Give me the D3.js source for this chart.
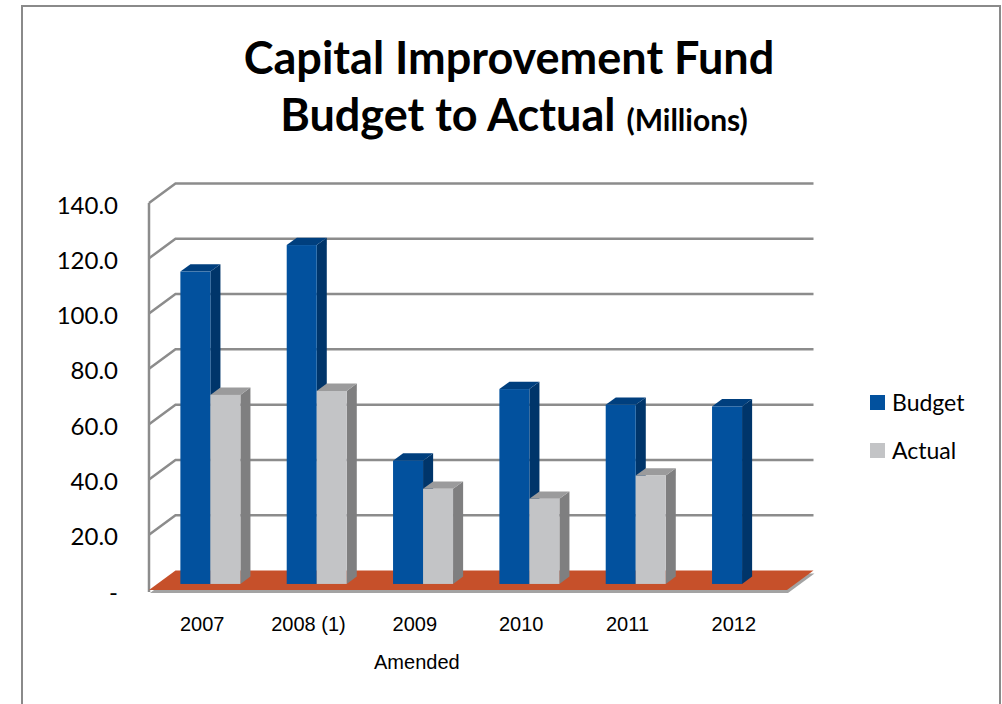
<!DOCTYPE html>
<html>
<head>
<meta charset="utf-8">
<script src="https://cdn.jsdelivr.net/npm/d3@7"></script>
<style>
  body { margin: 0; background: #fff; }
  svg { display: block; }
  .frame { fill: none; stroke: #8a8a8a; stroke-width: 2; }
  .grid { fill: none; stroke: #8c8c8c; stroke-width: 2.5; }
  .title { font-family: Lato, "Open Sans", sans-serif; font-weight: bold; fill: #000; }
  .y-axis text { font-family: Lato, "Open Sans", sans-serif; font-size: 24px; fill: #000; }
  .legend text { font-family: Lato, "Open Sans", sans-serif; font-size: 23px; fill: #000; }
  .x-axis text { font-family: "Liberation Sans", Arial, sans-serif; font-size: 20px; fill: #000; }
</style>
</head>
<body>
<div id="chart"></div>
<script>
// chart data (millions)
const years = ["2007", "2008 (1)", "2009", "2010", "2011", "2012"];
const budget = [113.0, 122.6, 44.6, 70.5, 64.8, 64.2];
const actual = [68.4, 69.8, 34.4, 30.8, 39.2, null];
const seriesNames = ["Budget", "Actual"];
const yTicks = [0, 20, 40, 60, 80, 100, 120, 140];
const subLabel = "Amended"; // second line under the category row

class BarChart3D {
    constructor(args) {
        this.element = args.element;
        this.series = [budget, actual];
        this.draw();
    }

    draw() {
        this.width = 1002;
        this.height = 704;

        // front plane of the plot box, depth vector goes up-right
        this.front = { left: 149, right: 787, bottom: 590, top: 203 };
        this.depth = { dx: 26.5, dy: -19.5 };
        this.barDepth = [0.31, 0.69]; // bars sit in the middle of the floor depth

        this.colors = {
            Budget: { front: "#02519e", side: "#00356a", top: "#003f7e" },
            Actual: { front: "#c3c4c6", side: "#7f7f80", top: "#9b9b9c" }
        };

        this.svg = d3.select(this.element)
            .append("svg")
            .attr("width", this.width)
            .attr("height", this.height);

        // outer chart border, bottom runs off the page
        this.svg.append("rect")
            .attr("class", "frame")
            .attr("x", 22).attr("y", 6)
            .attr("width", 978).attr("height", 760);

        this.createScales();
        this.addGrid();
        this.addFloor();
        this.addBars();
        this.addAxes();
        this.addLegend();
        this.addTitle();
    }

    createScales() {
        this.xScale = d3.scaleBand()
            .domain(years)
            .range([this.front.left, this.front.right]);

        this.yScale = d3.scaleLinear()
            .domain([0, 140])
            .range([this.front.bottom, this.front.top]);

        this.groupWidth = 60;
        this.xInner = d3.scaleBand()
            .domain(seriesNames)
            .range([0, this.groupWidth]);
    }

    // move a front-plane point back by z (0..1) of the box depth
    proj(x, y, z) {
        return [x + z * this.depth.dx, y + z * this.depth.dy];
    }

    addGrid() {
        const g = this.svg.append("g").attr("class", "grid-lines");
        const d = this.depth;

        // gridline runs along the left wall then across the back wall
        g.selectAll(".grid")
            .data(yTicks.filter(t => t > 0))
            .enter().append("path")
            .attr("class", "grid")
            .attr("d", t => {
                const y = this.yScale(t);
                return d3.line()([
                    [this.front.left, y],
                    [this.front.left + d.dx, y + d.dy],
                    [this.front.right + d.dx, y + d.dy]
                ]);
            });

        // front edge of the left wall
        g.append("path")
            .attr("class", "grid")
            .attr("d", d3.line()([
                [this.front.left, this.yScale(140)],
                [this.front.left, this.yScale(0) + 2]
            ]));
    }

    addFloor() {
        const y0 = this.yScale(0);
        const corners = [
            this.proj(this.front.left, y0, 0),
            this.proj(this.front.right, y0, 0),
            this.proj(this.front.right, y0, 1),
            this.proj(this.front.left, y0, 1)
        ];

        // thin grey slab edge under the floor
        this.svg.append("path")
            .attr("d", d3.line()(corners.map(p => [p[0] + 1, p[1] + 3])) + "Z")
            .attr("fill", "#a3a3a3");

        this.svg.append("path")
            .attr("d", d3.line()(corners) + "Z")
            .attr("fill", "#c6502a");
    }

    addBars() {
        const [z0, z1] = this.barDepth;
        const base = this.yScale(0);
        const line = d3.line();

        years.forEach((year, i) => {
            const groupX = this.xScale(year) + this.xScale.bandwidth() / 2 - this.groupWidth / 2;

            seriesNames.forEach((name, j) => {
                const v = this.series[j][i];
                if (v == null) return;

                const xl = groupX + this.xInner(name);
                const xr = xl + this.xInner.bandwidth();
                const top = this.yScale(v);
                const c = this.colors[name];
                const bar = this.svg.append("g").attr("class", "bar");

                // right side face
                bar.append("path")
                    .attr("d", line([
                        this.proj(xr, top, z0), this.proj(xr, top, z1),
                        this.proj(xr, base, z1), this.proj(xr, base, z0)
                    ]) + "Z")
                    .attr("fill", c.side);

                // top face
                bar.append("path")
                    .attr("d", line([
                        this.proj(xl, top, z0), this.proj(xl, top, z1),
                        this.proj(xr, top, z1), this.proj(xr, top, z0)
                    ]) + "Z")
                    .attr("fill", c.top);

                // front face
                const [fx, fy] = this.proj(xl, top, z0);
                bar.append("rect")
                    .attr("x", fx)
                    .attr("y", fy)
                    .attr("width", xr - xl)
                    .attr("height", base - top)
                    .attr("fill", c.front);
            });
        });
    }

    addAxes() {
        // value axis labels, zero shown as a dash
        const yAxis = this.svg.append("g")
            .attr("class", "y-axis")
            .attr("transform", "translate(" + (this.front.left - 31) + ",0)")
            .call(d3.axisLeft(this.yScale)
                .tickValues(yTicks)
                .tickSize(0)
                .tickPadding(0)
                .tickFormat(t => t === 0 ? "-" : d3.format(".1f")(t)));
        yAxis.select(".domain").remove();
        yAxis.selectAll("text").attr("dy", "0.42em").attr("font-family", null).attr("font-size", null);

        // category labels
        const xAxis = this.svg.append("g")
            .attr("class", "x-axis")
            .attr("transform", "translate(0," + (this.front.bottom + 27) + ")")
            .call(d3.axisBottom(this.xScale).tickSize(0).tickPadding(0));
        xAxis.select(".domain").remove();
        xAxis.selectAll("text").attr("dy", "0.71em").attr("font-family", null).attr("font-size", null);

        // "Amended" sits under the 2009 column in the original
        this.svg.append("g")
            .attr("class", "x-axis")
            .append("text")
            .attr("x", this.xScale("2009") + this.xScale.bandwidth() / 2 + 2)
            .attr("y", 669)
            .attr("text-anchor", "middle")
            .text(subLabel);
    }

    addLegend() {
        const legend = this.svg.append("g").attr("class", "legend");
        const item = legend.selectAll(".item")
            .data(seriesNames)
            .enter().append("g")
            .attr("class", "item")
            .attr("transform", (d, i) => "translate(870," + (395 + i * 48) + ")");

        item.append("rect")
            .attr("width", 15).attr("height", 15)
            .attr("fill", d => this.colors[d].front);

        item.append("text")
            .attr("x", 22).attr("y", 7.5)
            .attr("dy", "0.36em")
            .text(d => d);
    }

    addTitle() {
        const t = this.svg.append("g").attr("class", "title");

        t.append("text")
            .attr("x", 509).attr("y", 74)
            .attr("text-anchor", "middle")
            .attr("font-size", 45)
            .text("Capital Improvement Fund");

        const line2 = t.append("text")
            .attr("x", 514).attr("y", 131)
            .attr("text-anchor", "middle");
        line2.append("tspan").attr("font-size", 45).text("Budget to Actual ");
        line2.append("tspan").attr("font-size", 30).text("(Millions)");
    }
}

new BarChart3D({ element: "#chart" });
</script>
</body>
</html>
